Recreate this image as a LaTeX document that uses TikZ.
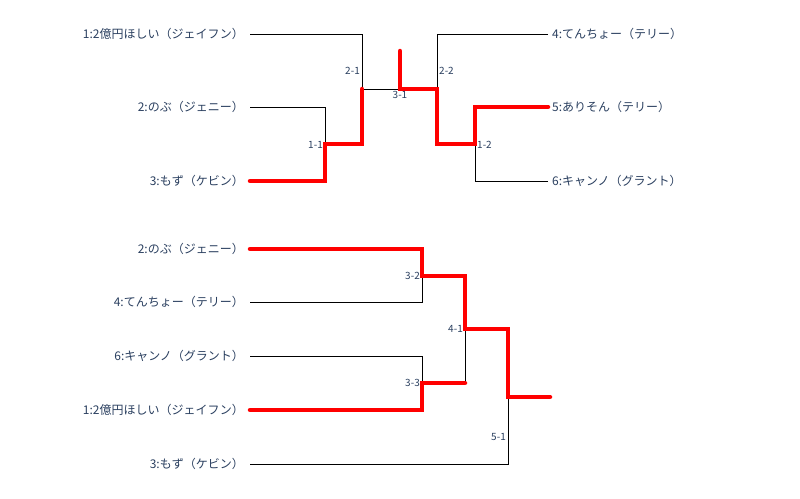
\documentclass[tikz,border=0pt]{standalone}
\usepackage{fontspec}
\usepackage{tikz}
\newfontfamily\jpfont{Noto Sans CJK JP}
\definecolor{txtcol}{RGB}{42,63,95}

\begin{document}
\begin{tikzpicture}[x=1pt,y=-1pt,
    player/.style={text=txtcol, font=\jpfont\fontsize{12}{14}\selectfont, inner sep=0pt},
    game/.style={text=txtcol, font=\jpfont\fontsize{10}{11}\selectfont, inner sep=1pt},
    line/.style={black, line width=0.8pt},
    win/.style={red, line width=4.5pt, line cap=round}]

                        \useasboundingbox (0,0) rectangle (800,498);

                        \coordinate (a1) at (250,34);
                        \coordinate (a2) at (250,107);
                        \coordinate (a3) at (250,181);
                        \coordinate (b4) at (548,34);
                        \coordinate (b5) at (548,107);
                        \coordinate (b6) at (548,181);
                        \coordinate (m11) at (325,144);
                        \coordinate (m21) at (362,89);
                        \coordinate (m31) at (400,89);
                        \coordinate (m22) at (437,89);
                        \coordinate (m12) at (475,144);
                        \coordinate (top) at (400,51);

                        \node[player, anchor=east] (p1) at (244,34) {1:2億円ほしい（ジェイフン）};
                        \node[player, anchor=east] (p2) at (244,107) {2:のぶ（ジェニー）};
                        \node[player, anchor=east] (p3) at (244,181) {3:もず（ケビン）};
                        \node[player, anchor=west] (p4) at (552,34) {4:てんちょー（テリー）};
                        \node[player, anchor=west] (p5) at (552,107) {5:ありそん（テリー）};
                        \node[player, anchor=west] (p6) at (552,181) {6:キャンノ（グラント）};

                        \draw[line] (a1) -| (m21);
                        \draw[line] (a2) -| (m11);
                        \draw[line] (a3) -| (m11);
                        \draw[line] (m11) -| (m21);
                        \draw[line] (m21) -- (m22);
                        \draw[line] (b4) -| (m22);
                        \draw[line] (b5) -| (m12);
                        \draw[line] (b6) -| (m12);
                        \draw[line] (m12) -| (m22);
                        \draw[win] (a3) -| (m11) -| (m21);
                        \draw[win] (b5) -| (m12) -| (m22) -- (m31) -- (top);

                        \node[game, anchor=east] (g21) at (361,71) {2-1};
                        \node[game, anchor=east] (g11) at (324,145) {1-1};
                        \node[game, anchor=north] (g31) at (400,90) {3-1};
                        \node[game, anchor=west] (g22) at (438,71) {2-2};
                        \node[game, anchor=west] (g12) at (476,145) {1-2};

                        \coordinate (c2) at (250,249);
                        \coordinate (c4) at (250,302);
                        \coordinate (c6) at (250,356);
                        \coordinate (c1) at (250,410);
                        \coordinate (c3) at (250,464);
                        \coordinate (m32) at (422,276);
                        \coordinate (m33) at (422,383);
                        \coordinate (m41) at (465,329);
                        \coordinate (m51) at (508,397);
                        \coordinate (fin) at (550,397);

                        \node[player, anchor=east] (q2) at (244,249) {2:のぶ（ジェニー）};
                        \node[player, anchor=east] (q4) at (244,302) {4:てんちょー（テリー）};
                        \node[player, anchor=east] (q6) at (244,356) {6:キャンノ（グラント）};
                        \node[player, anchor=east] (q1) at (244,410) {1:2億円ほしい（ジェイフン）};
                        \node[player, anchor=east] (q3) at (244,464) {3:もず（ケビン）};

                        \draw[line] (c2) -| (m32);
                        \draw[line] (c4) -| (m32);
                        \draw[line] (c6) -| (m33);
                        \draw[line] (c1) -| (m33);
                        \draw[line] (m32) -| (m41);
                        \draw[line] (m33) -| (m41);
                        \draw[line] (m41) -| (m51);
                        \draw[line] (c3) -| (m51);
                        \draw[win] (c2) -| (m32) -| (m41) -| (m51) -- (fin);
                        \draw[win] (c1) -| (m33) -- (m33 -| m41);

                        \node[game, anchor=east] (g32) at (421,276) {3-2};
                        \node[game, anchor=east] (g41) at (464,329) {4-1};
                        \node[game, anchor=east] (g33) at (421,383) {3-3};
                        \node[game, anchor=east] (g51) at (507,437) {5-1};

                    \end{tikzpicture}
\end{document}
